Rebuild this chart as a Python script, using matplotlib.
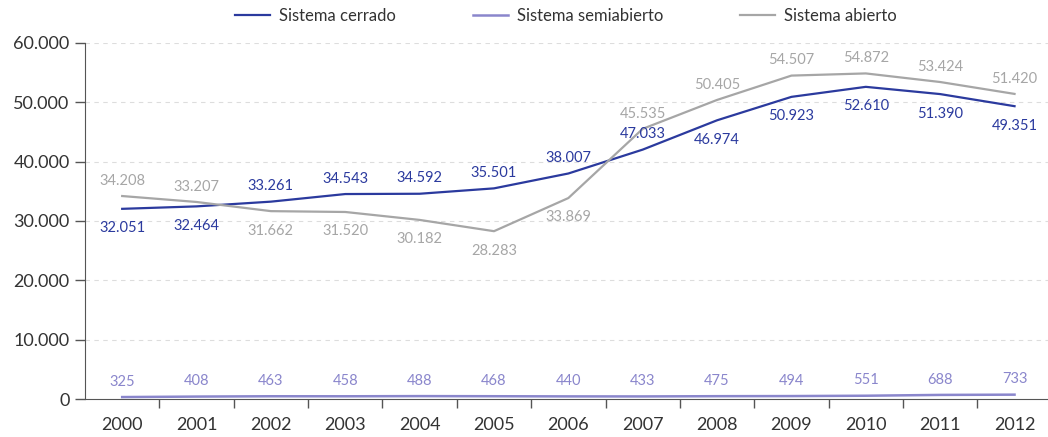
import matplotlib
matplotlib.use("Agg")
import numpy as np
import matplotlib.pyplot as plt

years = ["2000", "2001", "2002", "2003", "2004", "2005", "2006",
         "2007", "2008", "2009", "2010", "2011", "2012"]
# the 2007 point of "cerrado" is drawn near 42.000 in the source although its label reads 47.033
cerrado = [32051, 32464, 33261, 34543, 34592, 35501, 38007,
           42033, 46974, 50923, 52610, 51390, 49351]
cerrado_text = ["32.051", "32.464", "33.261", "34.543", "34.592", "35.501", "38.007",
                "47.033", "46.974", "50.923", "52.610", "51.390", "49.351"]
semiabierto = [325, 408, 463, 458, 488, 468, 440, 433, 475, 494, 551, 688, 733]
abierto = [34208, 33207, 31662, 31520, 30182, 28283, 33869,
           45535, 50405, 54507, 54872, 53424, 51420]

# label placement: 1 = above the line, -1 = below
cerrado_pos = [-1, -1, 1, 1, 1, 1, 1, 1, -1, -1, -1, -1, -1]
abierto_pos = [1, 1, -1, -1, -1, -1, -1, 1, 1, 1, 1, 1, 1]
semi_pos = [1] * 13

C_CERR = "#2b3a9e"
C_SEMI = "#8a86cc"
C_ABIE = "#a6a6a6"
C_TEXT = "#333333"

plt.rcParams["font.family"] = ["Lato", "DejaVu Sans"]


def fmt(v):
    return f"{v:,}".replace(",", ".")


def label_series(ax, x, vals, texts, pos, color):
    for xi, v, t, p in zip(x, vals, texts, pos):
        off = 11 if p > 0 else -14
        ax.annotate(t, (xi, v), xytext=(0, off), textcoords="offset points",
                    ha="center", va="center", fontsize=10.5, color=color)


def main():
    fig = plt.figure(figsize=(10.48, 4.37), dpi=100)
    ax = fig.add_axes([85 / 1048, 38 / 437, 1 - 85 / 1048, (399 - 43) / 437])

    x = np.arange(len(years))
    ax.plot(x, cerrado, color=C_CERR, lw=1.6, label="Sistema cerrado", solid_joinstyle="round")
    ax.plot(x, semiabierto, color=C_SEMI, lw=1.8, label="Sistema semiabierto")
    ax.plot(x, abierto, color=C_ABIE, lw=1.6, label="Sistema abierto", solid_joinstyle="round")

    label_series(ax, x, cerrado, cerrado_text, cerrado_pos, C_CERR)
    label_series(ax, x, abierto, [fmt(v) for v in abierto], abierto_pos, C_ABIE)
    label_series(ax, x, semiabierto, [fmt(v) for v in semiabierto], semi_pos, C_SEMI)

    ax.set_ylim(0, 60000)
    ax.set_xlim(-0.5, 12.45)
    yt = np.arange(0, 60001, 10000)
    ax.set_yticks(yt)
    ax.set_yticklabels([fmt(v) for v in yt], fontsize=13, color=C_TEXT)
    for v in yt[1:]:
        ax.axhline(v, color="#dddddd", lw=0.8, ls=(0, (4, 4)), zorder=0)

    ax.set_xticks(x)
    ax.set_xticklabels(years, fontsize=13, color=C_TEXT)
    ax.tick_params(axis="x", length=0, pad=13)
    ax.set_xticks(np.arange(0.5, 12, 1), minor=True)
    ax.tick_params(axis="x", which="minor", length=6.5, width=1, color="#555555")
    ax.tick_params(axis="y", length=7, width=1, color="#555555", pad=4)

    for s in ["top", "right"]:
        ax.spines[s].set_visible(False)
    ax.spines["left"].set_color("#555555")
    ax.spines["bottom"].set_color("#555555")

    fig.legend(loc="center", bbox_to_anchor=(566 / 1048, 1 - 16 / 437), ncol=3,
               frameon=False, fontsize=12, handlelength=2.1, handletextpad=0.55,
               columnspacing=4.6, labelcolor=C_TEXT)

    fig.savefig("out.png", dpi=100)


if __name__ == "__main__":
    main()
